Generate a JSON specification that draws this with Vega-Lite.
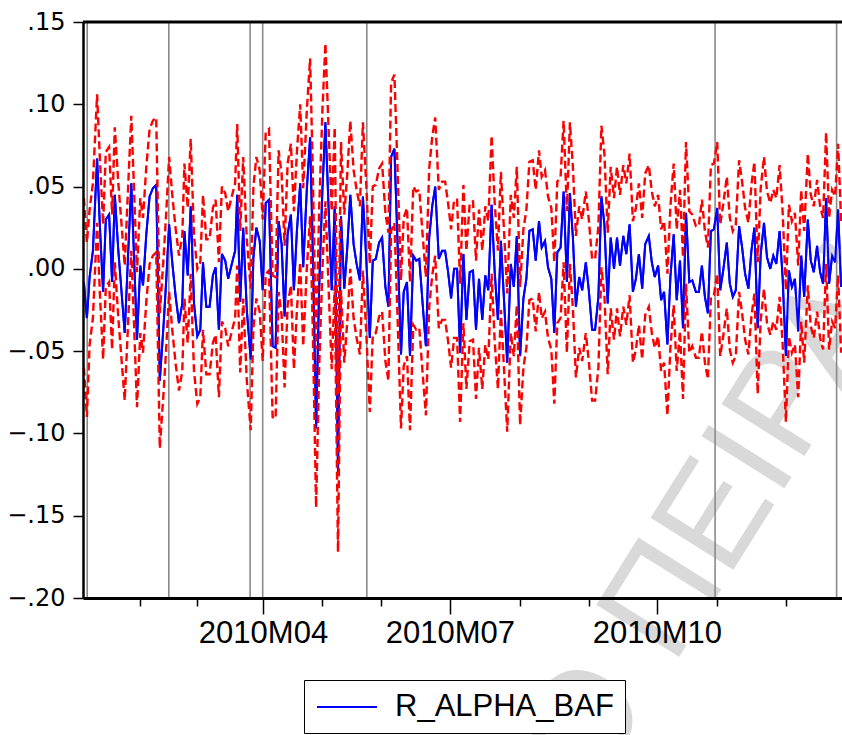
{
"$schema": "https://vega.github.io/schema/vega-lite/v6.json",
"width": 759, "height": 576,
"autosize": {"type": "none"},
"padding": {"left": 83, "top": 22, "right": 0, "bottom": 137},
"background": "white",
"datasets": {
"events": [{"t":1.4},{"t":28.6},{"t":55.7},{"t":59.9},{"t":94.6},{"t":210.7},{"t":251.2}],
"series": [
{"t":0.3,"r":-0.008,"u":0.043,"l":-0.060},
{"t":1.3,"r":-0.030,"u":0.016,"l":-0.090},
{"t":2.2,"r":-0.005,"u":0.036,"l":-0.046},
{"t":3.3,"r":0.011,"u":0.052,"l":-0.030},
{"t":4.7,"r":0.067,"u":0.106,"l":0.028},
{"t":5.6,"r":0.027,"u":0.068,"l":-0.014},
{"t":6.7,"r":-0.014,"u":0.027,"l":-0.055},
{"t":7.6,"r":0.030,"u":0.071,"l":-0.011},
{"t":8.7,"r":0.033,"u":0.074,"l":-0.008},
{"t":9.7,"r":-0.008,"u":0.033,"l":-0.049},
{"t":10.6,"r":0.045,"u":0.086,"l":0.004},
{"t":11.7,"r":0.013,"u":0.054,"l":-0.028},
{"t":12.8,"r":-0.013,"u":0.028,"l":-0.054},
{"t":13.9,"r":-0.039,"u":0.002,"l":-0.080},
{"t":15.0,"r":0.007,"u":0.048,"l":-0.034},
{"t":16.1,"r":0.052,"u":0.093,"l":0.011},
{"t":16.9,"r":0.013,"u":0.054,"l":-0.028},
{"t":18.0,"r":-0.043,"u":-0.002,"l":-0.084},
{"t":19.1,"r":0.002,"u":0.043,"l":-0.039},
{"t":20.0,"r":-0.010,"u":0.031,"l":-0.051},
{"t":21.1,"r":0.021,"u":0.062,"l":-0.020},
{"t":22.2,"r":0.044,"u":0.085,"l":0.003},
{"t":23.3,"r":0.049,"u":0.090,"l":0.008},
{"t":24.4,"r":0.051,"u":0.092,"l":0.010},
{"t":25.6,"r":-0.068,"u":-0.027,"l":-0.109},
{"t":26.9,"r":-0.033,"u":0.008,"l":-0.074},
{"t":27.8,"r":-0.005,"u":0.036,"l":-0.046},
{"t":28.7,"r":0.027,"u":0.068,"l":-0.014},
{"t":29.8,"r":0.003,"u":0.044,"l":-0.038},
{"t":30.9,"r":-0.017,"u":0.024,"l":-0.058},
{"t":32.0,"r":-0.033,"u":0.008,"l":-0.074},
{"t":33.1,"r":-0.021,"u":0.020,"l":-0.062},
{"t":33.8,"r":0.023,"u":0.064,"l":-0.018},
{"t":34.9,"r":-0.004,"u":0.037,"l":-0.045},
{"t":35.9,"r":0.038,"u":0.079,"l":-0.003},
{"t":37.0,"r":-0.021,"u":0.020,"l":-0.062},
{"t":38.1,"r":-0.041,"u":0.000,"l":-0.082},
{"t":39.1,"r":-0.037,"u":0.004,"l":-0.078},
{"t":40.0,"r":0.004,"u":0.045,"l":-0.037},
{"t":41.1,"r":-0.023,"u":0.018,"l":-0.064},
{"t":42.2,"r":-0.023,"u":0.018,"l":-0.064},
{"t":43.3,"r":-0.004,"u":0.037,"l":-0.045},
{"t":44.2,"r":0.001,"u":0.042,"l":-0.040},
{"t":45.3,"r":-0.037,"u":0.004,"l":-0.078},
{"t":46.3,"r":0.009,"u":0.050,"l":-0.032},
{"t":47.4,"r":0.005,"u":0.046,"l":-0.036},
{"t":48.4,"r":-0.006,"u":0.035,"l":-0.047},
{"t":49.6,"r":0.003,"u":0.044,"l":-0.038},
{"t":50.7,"r":0.011,"u":0.052,"l":-0.030},
{"t":51.4,"r":0.045,"u":0.088,"l":0.002},
{"t":52.4,"r":-0.020,"u":0.023,"l":-0.063},
{"t":53.4,"r":0.025,"u":0.068,"l":-0.018},
{"t":54.6,"r":-0.025,"u":0.018,"l":-0.068},
{"t":55.9,"r":-0.055,"u":-0.012,"l":-0.098},
{"t":56.8,"r":0.007,"u":0.050,"l":-0.036},
{"t":57.8,"r":0.025,"u":0.068,"l":-0.018},
{"t":58.9,"r":0.017,"u":0.060,"l":-0.026},
{"t":59.9,"r":-0.013,"u":0.030,"l":-0.056},
{"t":60.9,"r":0.040,"u":0.083,"l":-0.003},
{"t":62.0,"r":0.042,"u":0.085,"l":-0.001},
{"t":63.2,"r":-0.047,"u":-0.004,"l":-0.090},
{"t":64.2,"r":-0.048,"u":-0.005,"l":-0.091},
{"t":65.2,"r":0.029,"u":0.072,"l":-0.014},
{"t":66.2,"r":0.015,"u":0.058,"l":-0.028},
{"t":67.2,"r":-0.029,"u":0.014,"l":-0.072},
{"t":68.2,"r":0.021,"u":0.064,"l":-0.022},
{"t":69.3,"r":0.033,"u":0.076,"l":-0.010},
{"t":70.3,"r":-0.013,"u":0.035,"l":-0.061},
{"t":71.3,"r":0.023,"u":0.071,"l":-0.025},
{"t":72.4,"r":0.052,"u":0.100,"l":0.004},
{"t":73.4,"r":0.001,"u":0.049,"l":-0.047},
{"t":74.6,"r":0.048,"u":0.096,"l":0.000},
{"t":75.7,"r":0.080,"u":0.128,"l":0.032},
{"t":76.6,"r":0.011,"u":0.059,"l":-0.037},
{"t":77.7,"r":-0.097,"u":-0.049,"l":-0.145},
{"t":78.7,"r":-0.013,"u":0.035,"l":-0.061},
{"t":79.8,"r":0.048,"u":0.096,"l":0.000},
{"t":80.8,"r":0.089,"u":0.137,"l":0.041},
{"t":81.8,"r":0.040,"u":0.088,"l":-0.008},
{"t":82.9,"r":-0.013,"u":0.035,"l":-0.061},
{"t":83.9,"r":0.038,"u":0.086,"l":-0.010},
{"t":85.0,"r":-0.124,"u":-0.076,"l":-0.172},
{"t":86.0,"r":0.032,"u":0.077,"l":-0.013},
{"t":87.1,"r":-0.012,"u":0.033,"l":-0.057},
{"t":88.1,"r":0.013,"u":0.058,"l":-0.032},
{"t":89.1,"r":0.045,"u":0.090,"l":0.000},
{"t":90.2,"r":0.015,"u":0.060,"l":-0.030},
{"t":91.2,"r":0.003,"u":0.048,"l":-0.042},
{"t":92.3,"r":-0.007,"u":0.038,"l":-0.052},
{"t":93.3,"r":0.044,"u":0.089,"l":-0.001},
{"t":94.4,"r":0.007,"u":0.052,"l":-0.038},
{"t":95.6,"r":-0.042,"u":0.003,"l":-0.087},
{"t":96.6,"r":0.005,"u":0.050,"l":-0.040},
{"t":97.6,"r":0.006,"u":0.051,"l":-0.039},
{"t":98.7,"r":0.016,"u":0.061,"l":-0.029},
{"t":99.7,"r":0.019,"u":0.064,"l":-0.026},
{"t":100.8,"r":-0.011,"u":0.034,"l":-0.056},
{"t":101.8,"r":-0.023,"u":0.022,"l":-0.068},
{"t":102.7,"r":0.068,"u":0.113,"l":0.023},
{"t":103.8,"r":0.073,"u":0.118,"l":0.028},
{"t":104.9,"r":0.013,"u":0.058,"l":-0.032},
{"t":106.0,"r":-0.052,"u":-0.007,"l":-0.097},
{"t":106.9,"r":-0.014,"u":0.031,"l":-0.059},
{"t":108.0,"r":-0.008,"u":0.037,"l":-0.053},
{"t":109.0,"r":-0.053,"u":-0.008,"l":-0.098},
{"t":110.1,"r":0.008,"u":0.050,"l":-0.034},
{"t":111.1,"r":0.005,"u":0.047,"l":-0.037},
{"t":112.1,"r":0.006,"u":0.048,"l":-0.036},
{"t":113.2,"r":-0.021,"u":0.021,"l":-0.063},
{"t":114.3,"r":-0.047,"u":-0.005,"l":-0.089},
{"t":115.4,"r":0.019,"u":0.061,"l":-0.023},
{"t":116.4,"r":0.038,"u":0.080,"l":-0.004},
{"t":117.4,"r":0.050,"u":0.092,"l":0.008},
{"t":118.6,"r":0.006,"u":0.048,"l":-0.036},
{"t":119.7,"r":0.011,"u":0.053,"l":-0.031},
{"t":120.7,"r":0.011,"u":0.053,"l":-0.031},
{"t":121.7,"r":-0.002,"u":0.040,"l":-0.044},
{"t":122.7,"r":-0.018,"u":0.024,"l":-0.060},
{"t":123.7,"r":0.000,"u":0.042,"l":-0.042},
{"t":124.7,"r":0.000,"u":0.042,"l":-0.042},
{"t":125.7,"r":-0.051,"u":-0.009,"l":-0.093},
{"t":126.8,"r":0.009,"u":0.051,"l":-0.033},
{"t":127.8,"r":-0.031,"u":0.011,"l":-0.073},
{"t":128.9,"r":-0.002,"u":0.040,"l":-0.044},
{"t":130.0,"r":-0.001,"u":0.041,"l":-0.043},
{"t":131.0,"r":-0.037,"u":0.005,"l":-0.079},
{"t":132.0,"r":-0.006,"u":0.036,"l":-0.048},
{"t":133.1,"r":-0.031,"u":0.011,"l":-0.073},
{"t":134.1,"r":-0.004,"u":0.038,"l":-0.046},
{"t":135.1,"r":-0.013,"u":0.029,"l":-0.055},
{"t":136.2,"r":0.039,"u":0.081,"l":-0.003},
{"t":137.2,"r":-0.001,"u":0.041,"l":-0.043},
{"t":138.3,"r":-0.031,"u":0.011,"l":-0.073},
{"t":139.3,"r":0.017,"u":0.059,"l":-0.025},
{"t":140.4,"r":-0.021,"u":0.021,"l":-0.063},
{"t":141.4,"r":-0.057,"u":-0.015,"l":-0.099},
{"t":142.6,"r":0.003,"u":0.045,"l":-0.039},
{"t":143.6,"r":-0.011,"u":0.031,"l":-0.053},
{"t":144.6,"r":0.020,"u":0.062,"l":-0.022},
{"t":145.7,"r":-0.053,"u":-0.011,"l":-0.095},
{"t":146.8,"r":-0.018,"u":0.024,"l":-0.060},
{"t":147.8,"r":-0.006,"u":0.036,"l":-0.048},
{"t":148.8,"r":0.023,"u":0.065,"l":-0.019},
{"t":149.9,"r":0.024,"u":0.066,"l":-0.018},
{"t":150.9,"r":0.005,"u":0.048,"l":-0.038},
{"t":152.0,"r":0.029,"u":0.072,"l":-0.014},
{"t":152.9,"r":0.013,"u":0.056,"l":-0.030},
{"t":154.0,"r":0.017,"u":0.060,"l":-0.026},
{"t":155.0,"r":0.001,"u":0.044,"l":-0.042},
{"t":156.1,"r":-0.006,"u":0.037,"l":-0.049},
{"t":157.1,"r":-0.039,"u":0.004,"l":-0.082},
{"t":158.1,"r":0.010,"u":0.053,"l":-0.033},
{"t":159.2,"r":0.013,"u":0.056,"l":-0.030},
{"t":160.2,"r":0.047,"u":0.090,"l":0.004},
{"t":161.3,"r":-0.008,"u":0.035,"l":-0.051},
{"t":162.3,"r":0.046,"u":0.089,"l":0.003},
{"t":163.3,"r":0.019,"u":0.062,"l":-0.024},
{"t":164.3,"r":-0.023,"u":0.020,"l":-0.066},
{"t":165.4,"r":-0.005,"u":0.038,"l":-0.048},
{"t":166.4,"r":-0.013,"u":0.030,"l":-0.056},
{"t":167.6,"r":0.004,"u":0.047,"l":-0.039},
{"t":168.6,"r":-0.013,"u":0.030,"l":-0.056},
{"t":169.7,"r":-0.037,"u":0.006,"l":-0.080},
{"t":170.7,"r":-0.037,"u":0.006,"l":-0.080},
{"t":171.8,"r":-0.017,"u":0.026,"l":-0.060},
{"t":172.8,"r":0.044,"u":0.087,"l":0.001},
{"t":173.8,"r":0.027,"u":0.070,"l":-0.016},
{"t":174.9,"r":-0.021,"u":0.022,"l":-0.064},
{"t":175.9,"r":0.019,"u":0.062,"l":-0.024},
{"t":177.0,"r":0.000,"u":0.043,"l":-0.043},
{"t":178.0,"r":0.019,"u":0.062,"l":-0.024},
{"t":179.0,"r":0.002,"u":0.045,"l":-0.041},
{"t":180.1,"r":0.020,"u":0.063,"l":-0.023},
{"t":181.1,"r":0.009,"u":0.052,"l":-0.034},
{"t":182.2,"r":0.027,"u":0.070,"l":-0.016},
{"t":183.3,"r":-0.014,"u":0.029,"l":-0.057},
{"t":184.3,"r":-0.006,"u":0.037,"l":-0.049},
{"t":185.3,"r":0.009,"u":0.052,"l":-0.034},
{"t":186.4,"r":-0.012,"u":0.031,"l":-0.055},
{"t":187.4,"r":0.015,"u":0.058,"l":-0.028},
{"t":188.6,"r":0.020,"u":0.063,"l":-0.023},
{"t":189.6,"r":0.004,"u":0.047,"l":-0.039},
{"t":190.6,"r":-0.005,"u":0.038,"l":-0.048},
{"t":191.7,"r":0.002,"u":0.045,"l":-0.041},
{"t":192.7,"r":-0.019,"u":0.024,"l":-0.062},
{"t":193.7,"r":-0.014,"u":0.029,"l":-0.057},
{"t":194.8,"r":-0.046,"u":-0.003,"l":-0.089},
{"t":195.8,"r":-0.005,"u":0.038,"l":-0.048},
{"t":196.9,"r":0.021,"u":0.064,"l":-0.022},
{"t":197.9,"r":-0.019,"u":0.024,"l":-0.062},
{"t":199.0,"r":0.005,"u":0.048,"l":-0.038},
{"t":200.0,"r":-0.036,"u":0.007,"l":-0.079},
{"t":201.0,"r":0.034,"u":0.077,"l":-0.009},
{"t":202.1,"r":-0.008,"u":0.035,"l":-0.051},
{"t":203.1,"r":-0.007,"u":0.033,"l":-0.047},
{"t":204.3,"r":-0.014,"u":0.026,"l":-0.054},
{"t":205.3,"r":-0.014,"u":0.026,"l":-0.054},
{"t":206.3,"r":0.002,"u":0.042,"l":-0.038},
{"t":207.3,"r":-0.017,"u":0.023,"l":-0.057},
{"t":208.3,"r":-0.027,"u":0.013,"l":-0.067},
{"t":209.3,"r":0.023,"u":0.063,"l":-0.017},
{"t":210.3,"r":0.024,"u":0.064,"l":-0.016},
{"t":211.4,"r":0.037,"u":0.077,"l":-0.003},
{"t":212.4,"r":-0.013,"u":0.027,"l":-0.053},
{"t":213.4,"r":-0.001,"u":0.039,"l":-0.041},
{"t":214.6,"r":0.016,"u":0.056,"l":-0.024},
{"t":215.6,"r":-0.009,"u":0.031,"l":-0.049},
{"t":216.6,"r":-0.017,"u":0.023,"l":-0.057},
{"t":217.6,"r":-0.013,"u":0.027,"l":-0.053},
{"t":218.7,"r":0.026,"u":0.066,"l":-0.014},
{"t":219.7,"r":0.013,"u":0.053,"l":-0.027},
{"t":220.7,"r":-0.003,"u":0.037,"l":-0.043},
{"t":221.8,"r":-0.012,"u":0.028,"l":-0.052},
{"t":222.8,"r":0.011,"u":0.051,"l":-0.029},
{"t":223.8,"r":0.025,"u":0.065,"l":-0.015},
{"t":224.9,"r":-0.036,"u":0.004,"l":-0.076},
{"t":225.9,"r":0.009,"u":0.049,"l":-0.031},
{"t":227.0,"r":0.028,"u":0.068,"l":-0.012},
{"t":228.0,"r":0.007,"u":0.047,"l":-0.033},
{"t":229.1,"r":0.000,"u":0.040,"l":-0.040},
{"t":230.1,"r":0.008,"u":0.048,"l":-0.032},
{"t":231.1,"r":0.003,"u":0.043,"l":-0.037},
{"t":232.2,"r":0.023,"u":0.063,"l":-0.017},
{"t":233.2,"r":-0.005,"u":0.035,"l":-0.045},
{"t":234.3,"r":-0.053,"u":-0.013,"l":-0.093},
{"t":235.3,"r":-0.001,"u":0.039,"l":-0.041},
{"t":236.3,"r":-0.011,"u":0.029,"l":-0.051},
{"t":237.3,"r":-0.006,"u":0.034,"l":-0.046},
{"t":238.4,"r":-0.038,"u":0.002,"l":-0.078},
{"t":239.4,"r":0.008,"u":0.048,"l":-0.032},
{"t":240.4,"r":-0.017,"u":0.023,"l":-0.057},
{"t":241.6,"r":0.030,"u":0.070,"l":-0.010},
{"t":242.6,"r":0.005,"u":0.045,"l":-0.035},
{"t":243.6,"r":-0.002,"u":0.038,"l":-0.042},
{"t":244.7,"r":0.014,"u":0.054,"l":-0.026},
{"t":245.7,"r":-0.002,"u":0.038,"l":-0.042},
{"t":246.7,"r":-0.009,"u":0.031,"l":-0.049},
{"t":247.7,"r":0.043,"u":0.083,"l":0.003},
{"t":248.7,"r":-0.009,"u":0.031,"l":-0.049},
{"t":249.7,"r":0.008,"u":0.048,"l":-0.032},
{"t":250.7,"r":0.004,"u":0.044,"l":-0.036},
{"t":251.7,"r":0.036,"u":0.076,"l":-0.004},
{"t":252.7,"r":-0.011,"u":0.029,"l":-0.051}
]
},
"layer": [
{
"data": {"name": "series"},
"mark": {"type": "line", "strokeWidth": 2},
"encoding": {
"x": {"field": "t", "type": "quantitative", "title": null, "scale": {"domain": [0, 253], "nice": false, "zero": false},
"axis": {"values": [19, 38, 60, 79.7, 99.3, 122.3, 145.7, 168.7, 191.3, 211.3, 234.3],
"labelExpr": "abs(datum.value-60)<0.1 ? '2010M04' : abs(datum.value-122.3)<0.1 ? '2010M07' : abs(datum.value-191.3)<0.1 ? '2010M10' : ''",
"tickSize": {"condition": {"test": "abs(datum.value-60)<0.1 || abs(datum.value-122.3)<0.1 || abs(datum.value-191.3)<0.1", "value": 16}, "value": 8},
"labelFont": "Liberation Sans", "labelFontSize": 31, "labelPadding": 4, "labelOverlap": false, "labelFlush": false,
"domainWidth": 3, "tickWidth": 1.5, "title": null, "grid": false, "zindex": 1}},
"y": {"field": "r", "type": "quantitative", "title": null, "scale": {"domain": [-0.2, 0.15], "nice": false, "zero": false},
"axis": {"values": [-0.2, -0.15, -0.1, -0.05, 0, 0.05, 0.1, 0.15], "format": ".2f",
"labelExpr": "replace(datum.label, '0.', '.')",
"labelFont": "DejaVu Sans", "labelFontSize": 24, "tickSize": 10, "tickWidth": 1.5, "domainWidth": 2.5, "labelPadding": 8, "title": null, "grid": false, "zindex": 1}},
"color": {"datum": "R_ALPHA_BAF", "type": "nominal", "scale": {"range": ["#0000ff"]},
"legend": {"title": null, "orient": "none", "legendX": 221, "legendY": 658, "strokeColor": "black", "fillColor": "white", "padding": 11,
"labelFont": "Liberation Sans", "labelFontSize": 31, "labelColor": "black", "labelLimit": 0,
"symbolSize": 900, "symbolStrokeWidth": 2, "symbolType": "M-2,0H2", "symbolOffset": 16, "labelOffset": 32}}
}
},
{
"data": {"values": [{}]},
"mark": {"type": "text", "text": "Ο ΠΕΙΡΑΙΩΣ", "font": "Liberation Sans", "fontSize": 142, "color": "#d9d9d9", "angle": 302, "align": "left", "baseline": "middle"},
"encoding": {
"x": {"datum": 158, "type": "quantitative"},
"y": {"datum": -0.305, "type": "quantitative"}
}
},
{
"data": {"name": "events"},
"mark": {"type": "rule", "color": "#8a8a8a", "strokeWidth": 1.6},
"encoding": {
"x": {"field": "t", "type": "quantitative", "title": null}
}
},
{
"data": {"name": "series"},
"mark": {"type": "line", "strokeWidth": 2},
"encoding": {
"x": {"field": "t", "type": "quantitative", "title": null},
"y": {"field": "r", "type": "quantitative", "title": null},
"color": {"datum": "R_ALPHA_BAF", "type": "nominal"}
}
},
{
"data": {"name": "series"},
"mark": {"type": "line", "color": "#ff0000", "strokeWidth": 2.4, "strokeDash": [8, 4]},
"encoding": {
"x": {"field": "t", "type": "quantitative", "title": null},
"y": {"field": "u", "type": "quantitative", "title": null}
}
},
{
"data": {"name": "series"},
"mark": {"type": "line", "color": "#ff0000", "strokeWidth": 2.4, "strokeDash": [8, 4]},
"encoding": {
"x": {"field": "t", "type": "quantitative", "title": null},
"y": {"field": "l", "type": "quantitative", "title": null}
}
},
{
"data": {"values": [{}]},
"mark": {"type": "rule", "color": "black", "strokeWidth": 3},
"encoding": {
"y": {"datum": 0.15, "type": "quantitative"}
}
}
],
"config": {
"view": {"stroke": null},
"font": "Liberation Sans",
"axis": {"grid": false, "domainColor": "black", "tickColor": "black", "labelColor": "black", "zindex": 1}
}
}
